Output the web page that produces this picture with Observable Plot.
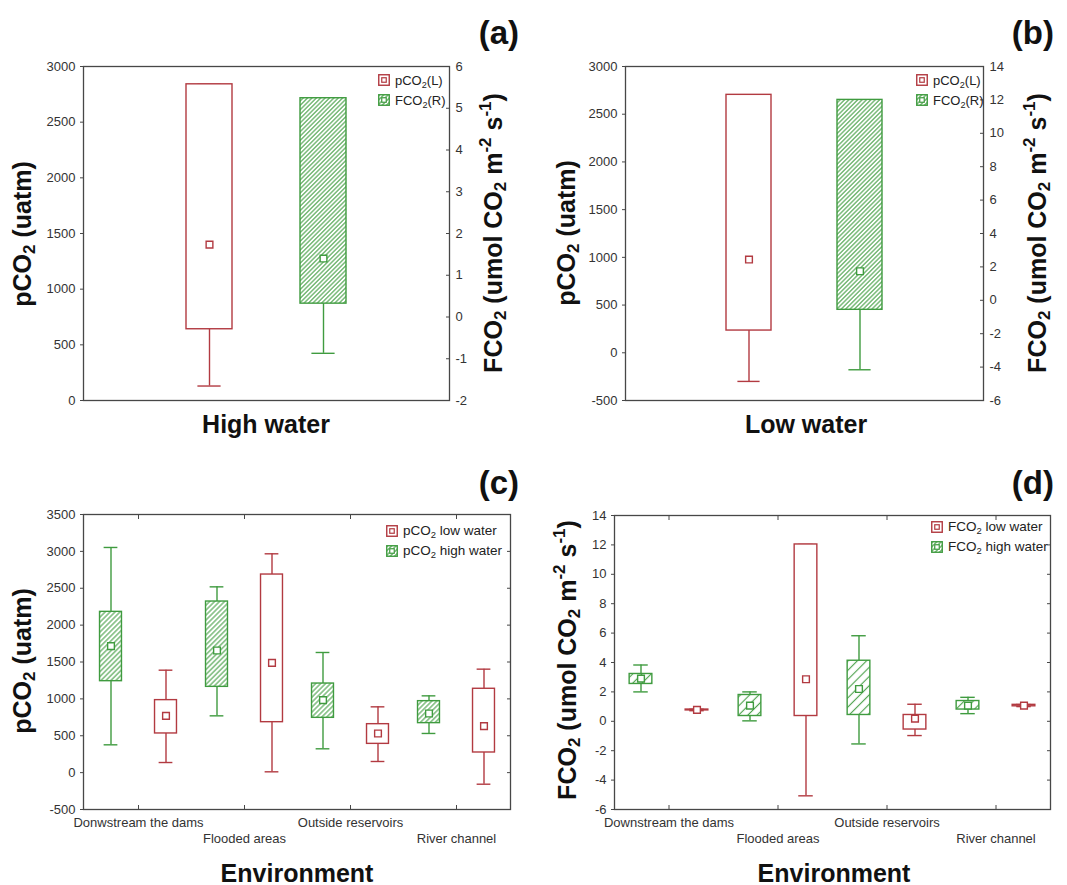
<!DOCTYPE html>
<html>
<head>
<meta charset="utf-8">
<script src="https://cdn.jsdelivr.net/npm/d3@7"></script>
<script src="https://cdn.jsdelivr.net/npm/@observablehq/plot@0.6"></script>
<style>
  body { margin: 0; background: #fff; font-family: "Liberation Sans", Arial, sans-serif; }
  #root { position: relative; width: 1067px; height: 885px; overflow: hidden; background: #fff; }
  .lbl { position: absolute; white-space: nowrap; color: #111; line-height: 1; }
  .lbl sub { font-size: 0.68em; vertical-align: -0.28em; line-height: 0; }
  .lbl sup { font-size: 0.68em; vertical-align: 0.6em; line-height: 0; }
  .leg { position: absolute; white-space: nowrap; color: #222; line-height: 1; display: flex; align-items: center; }
  .leg sub { font-size: 0.7em; vertical-align: -0.3em; line-height: 0; }
  .leg svg { margin-right: 5px; flex: none; }
  .plotbox { position: absolute; }
  .plotbox > svg { position: absolute; left: 0; top: 0; }
</style>
</head>
<body>
<svg width="0" height="0" style="position:absolute">
  <defs>
    <pattern id="hatchAB" patternUnits="userSpaceOnUse" width="3.1" height="3.1" patternTransform="rotate(45)">
      <rect width="3.1" height="3.1" fill="#ffffff"/>
      <line x1="1.55" y1="0" x2="1.55" y2="3.1" stroke="#52a652" stroke-width="1.15"/>
    </pattern>
    <pattern id="hatchC" patternUnits="userSpaceOnUse" width="3.5" height="3.5" patternTransform="rotate(45)">
      <rect width="3.5" height="3.5" fill="#ffffff"/>
      <line x1="1.75" y1="0" x2="1.75" y2="3.5" stroke="#52a652" stroke-width="1.15"/>
    </pattern>
    <pattern id="hatchD" patternUnits="userSpaceOnUse" width="6.5" height="6.5" patternTransform="rotate(45)">
      <rect width="6.5" height="6.5" fill="#ffffff"/>
      <line x1="3.25" y1="0" x2="3.25" y2="6.5" stroke="#4fa34f" stroke-width="1.15"/>
    </pattern>
  </defs>
</svg>
<div id="root"></div>
<script>
// ---------------- DATA ----------------
// Statistic order for every box: [min whisker, lower box edge, centre marker, upper box edge, max whisker]
const statKeys = ["min", "q1", "mid", "q3", "max"];

// Panels (a) and (b): one box per variable
const seasonCats = ["pCO2", "FCO2"];
const highWaterPco2 = [130, 640, 1400, 2840, 2840];     // uatm (left axis)
const highWaterFco2 = [-0.87, 0.32, 1.40, 5.24, 5.24];  // umol CO2 m-2 s-1 (right axis)
const lowWaterPco2 = [-300, 233, 977, 2703, 2703];
const lowWaterFco2 = [-4.16, -0.57, 1.74, 12.0, 12.0];

// Panels (c) and (d): by environment
const envC = ["Donwstream the dams", "Flooded areas", "Outside reservoirs", "River channel"];
const envD = ["Downstream the dams", "Flooded areas", "Outside reservoirs", "River channel"];

const pco2HighWater = [
  [377, 1240, 1715, 2180, 3053],
  [770, 1163, 1656, 2320, 2519],
  [323, 743, 983, 1208, 1629],
  [531, 671, 802, 969, 1041]
];
const pco2LowWater = [
  [137, 531, 770, 983, 1389],
  [11, 684, 1489, 2686, 2967],
  [151, 390, 531, 657, 892],
  [-157, 273, 630, 1137, 1403]
];
const fco2HighWater = [
  [2.0, 2.54, 2.90, 3.22, 3.83],
  [0.03, 0.36, 1.07, 1.79, 2.0],
  [-1.54, 0.43, 2.2, 4.12, 5.82],
  [0.52, 0.80, 1.07, 1.38, 1.63]
];
const fco2LowWater = [
  [0.72, 0.74, 0.78, 0.80, 0.82],
  [-5.07, 0.36, 2.86, 12.03, 12.03],
  [-0.97, -0.56, 0.18, 0.43, 1.16],
  [1.00, 1.02, 1.07, 1.12, 1.14]
];

// Tick values
const ticksALeft = [0, 500, 1000, 1500, 2000, 2500, 3000];
const ticksARight = [-2, -1, 0, 1, 2, 3, 4, 5, 6];
const ticksBLeft = [-500, 0, 500, 1000, 1500, 2000, 2500, 3000];
const ticksBRight = [-6, -4, -2, 0, 2, 4, 6, 8, 10, 12, 14];
const ticksC = [-500, 0, 500, 1000, 1500, 2000, 2500, 3000, 3500];
const ticksD = [-6, -4, -2, 0, 2, 4, 6, 8, 10, 12, 14];

// ---------------- STYLE ----------------
const RED = "#b23a41";
const GREEN = "#3f9b3f";
const FRAME = "#474747";
const SW = 1.4;
const fmt = (d) => String(d);
const plotStyle = {
  fontFamily: '"Liberation Sans", Arial, sans-serif',
  fontSize: "13px",
  color: "#333",
  background: "transparent",
  overflow: "visible"
};

const root = document.getElementById("root");

function rec(cat, arr) {
  const o = {cat};
  statKeys.forEach((k, j) => (o[k] = arr[j]));
  return o;
}

function boxMarks(data, {stroke, fill, dx = 0, boxInset = 0, capInset = 0}) {
  return [
    Plot.ruleX(data, {x: "cat", y1: "min", y2: "q1", stroke, strokeWidth: SW, dx}),
    Plot.ruleX(data, {x: "cat", y1: "q3", y2: "max", stroke, strokeWidth: SW, dx}),
    Plot.tickY(data, {x: "cat", y: "min", stroke, strokeWidth: SW, insetLeft: capInset, insetRight: capInset, dx}),
    Plot.tickY(data, {x: "cat", y: "max", stroke, strokeWidth: SW, insetLeft: capInset, insetRight: capInset, dx}),
    Plot.barY(data, {x: "cat", y1: "q1", y2: "q3", fill, stroke, strokeWidth: SW, insetLeft: boxInset, insetRight: boxInset, dx}),
    Plot.dot(data, {x: "cat", y: "mid", symbol: "square", r: 3.8, fill: "white", stroke, strokeWidth: 1.4, dx})
  ];
}

function holder(P) {
  const d = document.createElement("div");
  d.className = "plotbox";
  d.style.left = P.left + "px";
  d.style.top = P.top + "px";
  d.style.width = P.width + "px";
  d.style.height = P.height + "px";
  root.appendChild(d);
  return d;
}

function label(html, x, y, {size = 25, rotate = false, align = "center", weight = "bold"} = {}) {
  const d = document.createElement("div");
  d.className = "lbl";
  d.innerHTML = html;
  d.style.fontSize = size + "px";
  d.style.fontWeight = weight;
  d.style.left = x + "px";
  d.style.top = y + "px";
  const tx = align === "center" ? "-50%" : align === "right" ? "-100%" : "0";
  d.style.transform = `translate(${tx},-50%)` + (rotate ? " rotate(-90deg)" : "");
  root.appendChild(d);
}

function swatch(kind, color, hatch) {
  const fill = kind === "hatch" ? `url(#${hatch})` : "white";
  return `<svg width="12" height="12" viewBox="0 0 12 12"><rect x="0.75" y="0.75" width="10.5" height="10.5" fill="${fill}" stroke="${color}" stroke-width="1.4"/><rect x="3.75" y="3.75" width="4.5" height="4.5" fill="white" stroke="${color}" stroke-width="1.2"/></svg>`;
}

function legend(x, y, items, size) {
  items.forEach((it, i) => {
    const d = document.createElement("div");
    d.className = "leg";
    d.style.left = x + "px";
    d.style.top = (y + i * 20) + "px";
    d.style.fontSize = size + "px";
    d.style.height = "12px";
    d.innerHTML = swatch(it.kind, it.color, "hatchAB") + `<span>${it.html}</span>`;
    root.appendChild(d);
  });
}

// ---------------- PANELS (a), (b) ----------------
function seasonPanel(P, leftTicks, rightTicks, leftDomain, rightDomain, pco2, fco2) {
  const W = P.width - P.m.left - P.m.right;
  const step = 0.312 * W, bw = 45.6;
  const pi = 1 - bw / step;
  const po = (W / step - 2 + pi) / 2;
  const common = {
    width: P.width, height: P.height,
    marginTop: P.m.top, marginRight: P.m.right, marginBottom: P.m.bottom, marginLeft: P.m.left,
    x: {type: "band", domain: seasonCats, paddingInner: pi, paddingOuter: po, align: 0.5, axis: null},
    style: plotStyle
  };
  const h = holder(P);
  const p1 = Plot.plot({
    ...common,
    y: {domain: leftDomain},
    marks: [
      Plot.frame({stroke: FRAME, strokeWidth: 1.3}),
      Plot.axisY(leftTicks, {anchor: "left", tickSize: 3, tickPadding: 5, tickFormat: fmt, label: null, stroke: FRAME}),
      ...boxMarks([rec("pCO2", pco2)], {stroke: RED, fill: "white", capInset: bw / 4})
    ]
  });
  const p2 = Plot.plot({
    ...common,
    y: {domain: rightDomain},
    marks: [
      Plot.axisY(rightTicks, {anchor: "right", tickSize: 0, tickPadding: 6, tickFormat: fmt, label: null}),
      Plot.axisY(rightTicks, {anchor: "right", tickSize: -4, fill: "none", label: null, stroke: FRAME}),
      ...boxMarks([rec("FCO2", fco2)], {stroke: GREEN, fill: "url(#hatchAB)", capInset: bw / 4})
    ]
  });
  h.appendChild(p1);
  h.appendChild(p2);
}

const PA = {left: 0, top: 0, width: 530, height: 440, m: {top: 66, right: 81, bottom: 40, left: 83}};
const PB = {left: 530, top: 0, width: 537, height: 440, m: {top: 66, right: 84, bottom: 40, left: 95}};
seasonPanel(PA, ticksALeft, ticksARight, [0, 3000], [-2, 6], highWaterPco2, highWaterFco2);
seasonPanel(PB, ticksBLeft, ticksBRight, [-500, 3000], [-6, 14], lowWaterPco2, lowWaterFco2);

// ---------------- PANELS (c), (d) ----------------
function envPanel(P, cats, yTicks, yDomain, high, low, hatchId, offset) {
  const W = P.width - P.m.left - P.m.right;
  const step = W / cats.length;
  const boxW = 22.7, capW = 14.5;
  const boxInset = (step - boxW) / 2, capInset = (step - capW) / 2;
  const highData = cats.map((c, i) => rec(c, high[i]));
  const lowData = cats.map((c, i) => rec(c, low[i]));
  const h = holder(P);
  const p = Plot.plot({
    width: P.width, height: P.height,
    marginTop: P.m.top, marginRight: P.m.right, marginBottom: P.m.bottom, marginLeft: P.m.left,
    x: {type: "band", domain: cats, padding: 0},
    y: {domain: yDomain},
    style: plotStyle,
    marks: [
      Plot.frame({stroke: FRAME, strokeWidth: 1.3}),
      Plot.axisY(yTicks, {anchor: "left", tickSize: 3, tickPadding: 5, tickFormat: fmt, label: null, stroke: FRAME}),
      Plot.axisY(yTicks, {anchor: "right", tickSize: -4, fill: "none", label: null, stroke: FRAME}),
      Plot.axisX(cats, {anchor: "top", tickSize: -4, fill: "none", label: null, stroke: FRAME}),
      Plot.axisX(cats, {anchor: "bottom", tickSize: -4, fill: "none", label: null, stroke: FRAME}),
      Plot.axisX([cats[0], cats[2]], {anchor: "bottom", tickSize: 0, tickPadding: 8, label: null}),
      Plot.axisX([cats[1], cats[3]], {anchor: "bottom", tickSize: 0, tickPadding: 24, label: null}),
      ...boxMarks(highData, {stroke: GREEN, fill: `url(#${hatchId})`, dx: -offset, boxInset, capInset}),
      ...boxMarks(lowData, {stroke: RED, fill: "white", dx: offset, boxInset, capInset})
    ]
  });
  h.appendChild(p);
}

const PC = {left: 0, top: 460, width: 530, height: 425, m: {top: 54, right: 20, bottom: 76, left: 83}};
const PD = {left: 530, top: 460, width: 537, height: 425, m: {top: 55, right: 17, bottom: 76, left: 84}};
envPanel(PC, envC, ticksC, [-500, 3500], pco2HighWater, pco2LowWater, "hatchC", 27.5);
envPanel(PD, envD, ticksD, [-6, 14], fco2HighWater, fco2LowWater, "hatchD", 28);

// ---------------- TEXT ----------------
const pco2Title = "pCO<sub>2</sub> (uatm)";
const fco2Title = "FCO<sub>2</sub> (umol CO<sub>2</sub> m<sup>-2</sup> s<sup>-1</sup>)";

label("(a)", 519, 32, {size: 33, align: "right"});
label("(b)", 1054, 32, {size: 33, align: "right"});
label("(c)", 519, 482, {size: 33, align: "right"});
label("(d)", 1054, 482, {size: 33, align: "right"});

label(pco2Title, 22, 234, {rotate: true});
label(fco2Title, 493, 233, {rotate: true});
label("High water", 266, 424);

label(pco2Title, 566, 233, {rotate: true});
label(fco2Title, 1037, 233, {rotate: true});
label("Low water", 806, 424);

label(pco2Title, 22, 661, {rotate: true});
label("Environment", 297, 873);

label(fco2Title, 567, 660, {rotate: true});
label("Environment", 834, 873);

legend(378, 74, [
  {kind: "plain", color: RED, html: "pCO<sub>2</sub>(L)"},
  {kind: "hatch", color: GREEN, html: "FCO<sub>2</sub>(R)"}
], 13);
legend(916, 74, [
  {kind: "plain", color: RED, html: "pCO<sub>2</sub>(L)"},
  {kind: "hatch", color: GREEN, html: "FCO<sub>2</sub>(R)"}
], 13);
legend(386, 525, [
  {kind: "plain", color: RED, html: "pCO<sub>2</sub> low water"},
  {kind: "hatch", color: GREEN, html: "pCO<sub>2</sub> high water"}
], 13.5);
legend(931, 521, [
  {kind: "plain", color: RED, html: "FCO<sub>2</sub> low water"},
  {kind: "hatch", color: GREEN, html: "FCO<sub>2</sub> high water"}
], 13.5);
</script>
</body>
</html>
